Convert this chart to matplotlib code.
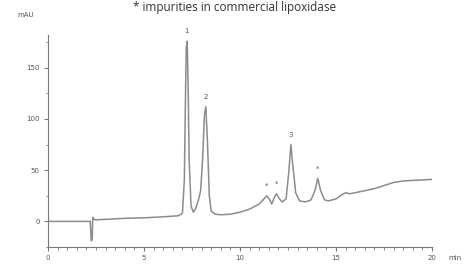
import numpy as np
import matplotlib
matplotlib.use("Agg")
import matplotlib.pyplot as plt
from matplotlib.ticker import MultipleLocator

# chromatogram trace (time in min, absorbance in mAU)
t = [0, 2.2, 2.25, 2.3, 2.33, 2.36, 2.45, 3, 4, 5, 6, 6.8, 7.0, 7.1, 7.15,
     7.2, 7.25, 7.3, 7.35, 7.45, 7.57, 7.7, 7.85, 7.95, 8.05, 8.15, 8.22,
     8.3, 8.4, 8.5, 8.7, 9.0, 9.5, 10.0, 10.5, 11.0, 11.2, 11.4, 11.55,
     11.65, 11.8, 11.9, 12.05, 12.2, 12.4, 12.55, 12.65, 12.75, 12.9, 13.1,
     13.4, 13.7, 13.9, 14.05, 14.2, 14.4, 14.6, 15.0, 15.3, 15.5, 15.7,
     16.0, 17.0, 18.0, 18.5, 19.0, 20.0]
mau = [0, 0, -19, -18, 4, 3, 1.5, 2, 3, 3.5, 4.5, 5.5, 8, 40, 110,
       170, 176, 130, 60, 15, 9, 13, 22, 30, 60, 105, 112,
       80, 25, 10, 7, 6.5, 7, 9, 12, 17, 21, 25, 21,
       17, 24, 27, 22, 19, 22, 50, 75, 55, 28, 20,
       19, 21, 30, 42, 30, 21, 20, 22, 26, 28, 27,
       28, 32, 38, 39.5, 40, 41]

# peak annotations
peak_labels = ["1", "2", "*", "*", "3", "*"]
peak_t = [7.22, 8.2, 11.4, 11.9, 12.65, 14.05]
peak_y = [176, 112, 25, 27, 75, 42]

title = "* impurities in commercial lipoxidase"

fig = plt.figure(figsize=(4.68, 2.66), dpi=100)
ax = fig.add_axes([0.1026, 0.0714, 0.8205, 0.797])

ax.plot(t, mau, color="#8c8c8c", lw=1.1, solid_joinstyle="round")

for lab, x, y in zip(peak_labels, peak_t, peak_y):
    ax.annotate(lab, (x, y), xytext=(0, 5), textcoords="offset points",
                ha="center", va="bottom", fontsize=5, color="#555555")

ax.set_xlim(0, 20)
ax.set_ylim(-25, 182)
for s in ["top", "right"]:
    ax.spines[s].set_visible(False)
for s in ["left", "bottom"]:
    ax.spines[s].set_color("#777777")
    ax.spines[s].set_linewidth(0.8)

ax.xaxis.set_major_locator(MultipleLocator(5))
ax.xaxis.set_minor_locator(MultipleLocator(0.5))
ax.yaxis.set_major_locator(MultipleLocator(50))
ax.yaxis.set_minor_locator(MultipleLocator(25))
ax.tick_params(which="major", length=3, width=0.8, color="#777777",
               labelsize=5, labelcolor="#555555", pad=3)
ax.tick_params(which="minor", length=1.8, width=0.7, color="#888888")

fig.text(0.972, 0.022, "min", fontsize=5, color="#555555", ha="center")
fig.text(0.055, 0.935, "mAU", fontsize=5, color="#555555", ha="center")
fig.text(0.502, 0.997, title, fontsize=8.5, family="Open Sans",
         color="#333333", ha="center", va="top")

fig.savefig("out.png", dpi=100)
